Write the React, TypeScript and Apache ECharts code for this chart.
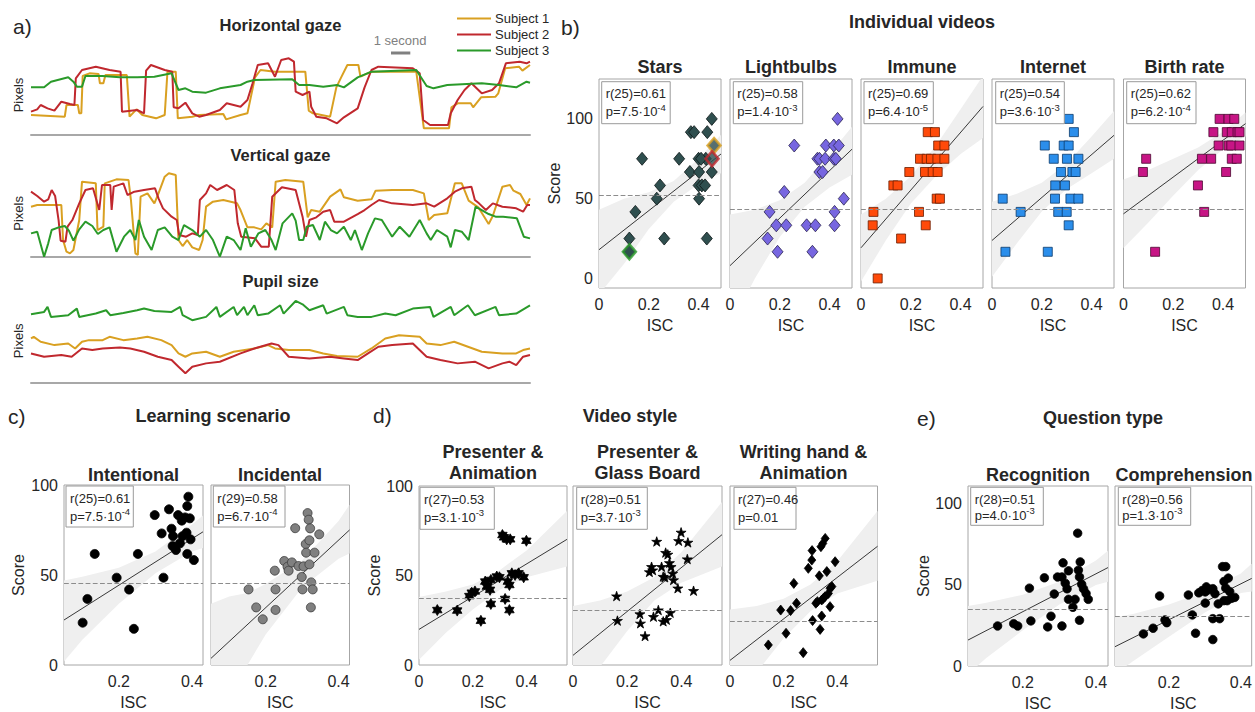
import { useEffect, useRef } from "react";
import * as echarts from "echarts";

const FONT = "'Liberation Sans', Arial, Helvetica, sans-serif";
const TXT = "#262626";

// ---------------- Panel a: eye-tracking traces ([sample, pixels]); 56 samples = 1 s
const SAMPLES_PER_SECOND = 56;
const TRACE_SAMPLES = 1448;
const subjectNames = ["Subject 1", "Subject 2", "Subject 3"];
const subjectColors = ["#D9A021", "#C0282E", "#2A9A2A"];

const horizS1 = [[0,60],[98,55],[103,90],[136,90],[140,65],[146,65],[150,177],[170,185],[196,183],[200,155],[210,155],[216,180],[278,180],[286,55],[306,77],[323,60],[363,50],[388,60],[396,190],[420,190],[426,50],[468,55],[488,60],[558,63],[566,47],[608,60],[628,65],[650,173],[666,195],[708,190],[796,190],[806,73],[818,65],[868,55],[886,143],[900,173],[918,210],[950,210],[956,175],[988,190],[1118,190],[1140,20],[1213,20],[1220,83],[1238,95],[1276,95],[1283,83],[1306,113],[1348,115],[1356,125],[1376,200],[1416,205],[1426,193],[1448,210]];
const horizS2 = [[0,70],[18,77],[28,90],[48,80],[68,73],[88,100],[113,93],[126,90],[130,170],[148,195],[188,205],[228,195],[260,190],[264,70],[308,75],[328,65],[334,193],[348,210],[388,195],[410,190],[414,83],[428,80],[448,97],[468,65],[488,55],[508,60],[548,75],[568,95],[608,85],[628,105],[643,155],[658,210],[688,215],[708,175],[726,225],[748,230],[763,220],[768,130],[788,120],[808,130],[813,85],[828,55],[858,50],[888,35],[908,53],[948,80],[968,143],[988,195],[1008,205],[1108,200],[1128,185],[1138,45],[1158,30],[1210,30],[1218,65],[1238,105],[1258,135],[1278,155],[1308,125],[1338,135],[1358,155],[1378,215],[1418,220],[1438,215],[1448,220]];
const horizS3 = [[0,143],[38,143],[58,160],[108,173],[123,160],[133,145],[148,145],[158,177],[208,177],[258,173],[308,173],[358,175],[408,185],[428,135],[448,140],[468,130],[508,127],[548,140],[608,150],[628,160],[648,165],[758,167],[778,150],[808,150],[848,145],[888,150],[908,143],[948,173],[988,190],[1118,195],[1148,147],[1168,140],[1208,150],[1308,155],[1358,150],[1408,143],[1438,160],[1448,157]];

const vertS1 = [[0,150],[18,155],[88,155],[93,50],[103,15],[113,10],[123,20],[140,110],[148,225],[188,220],[193,80],[210,90],[214,220],[248,232],[283,230],[290,170],[303,10],[310,5],[318,180],[338,190],[358,160],[370,190],[388,240],[400,250],[420,245],[428,50],[440,32],[453,50],[468,28],[488,20],[498,50],[508,150],[528,165],[558,170],[598,160],[608,140],[628,88],[648,88],[668,82],[683,100],[700,88],[710,225],[738,230],[790,225],[803,118],[813,140],[838,135],[868,180],[898,202],[908,178],[948,168],[988,172],[1000,198],[1048,200],[1108,200],[1140,190],[1154,110],[1170,125],[1208,130],[1230,220],[1250,220],[1270,168],[1298,148],[1328,98],[1340,122],[1368,210],[1390,215],[1400,198],[1420,188],[1438,155],[1448,175]];
const vertS2 = [[0,195],[18,182],[38,165],[50,172],[60,200],[70,182],[80,110],[86,48],[100,45],[106,90],[120,110],[140,160],[158,200],[180,205],[198,140],[206,215],[230,215],[234,140],[240,210],[268,220],[280,185],[300,195],[328,200],[360,205],[370,175],[383,145],[408,120],[423,110],[430,65],[450,60],[468,70],[484,65],[490,170],[508,190],[520,215],[540,200],[568,215],[590,200],[600,100],[610,60],[650,55],[668,30],[690,30],[700,180],[728,208],[768,200],[788,120],[798,60],[808,110],[828,118],[848,135],[868,140],[880,105],[908,105],[948,128],[968,140],[988,155],[1010,170],[1048,160],[1108,155],[1148,160],[1170,150],[1208,175],[1230,195],[1250,205],[1278,210],[1288,170],[1300,160],[1320,140],[1340,160],[1368,150],[1408,145],[1428,135],[1440,155],[1448,155]];
const vertS3 = [[0,70],[18,75],[38,0],[50,40],[60,80],[80,88],[98,92],[110,78],[123,48],[140,82],[158,105],[178,92],[194,68],[210,80],[228,88],[248,15],[270,60],[288,80],[303,50],[313,110],[328,60],[350,20],[368,80],[388,88],[410,60],[428,50],[444,95],[468,80],[490,60],[508,80],[528,50],[548,0],[568,60],[588,50],[608,20],[623,85],[638,30],[660,70],[680,80],[698,50],[710,20],[730,100],[758,130],[768,108],[778,50],[790,50],[800,90],[818,95],[838,50],[853,105],[870,80],[888,70],[908,90],[928,50],[940,80],[960,20],[978,70],[998,115],[1018,110],[1048,60],[1070,90],[1098,60],[1128,110],[1148,70],[1160,50],[1178,80],[1208,60],[1218,28],[1230,80],[1250,75],[1270,50],[1290,150],[1308,140],[1328,128],[1348,120],[1370,120],[1410,115],[1430,60],[1448,55]];

const pupilS1 = [[0,132],[8,137],[28,122],[68,112],[108,117],[128,102],[148,122],[168,127],[208,127],[228,137],[268,127],[308,132],[338,137],[378,127],[408,112],[428,87],[448,77],[468,87],[508,92],[548,77],[588,92],[648,102],[688,112],[708,102],[748,97],[808,97],[848,87],[888,79],[948,77],[988,102],[1028,132],[1068,142],[1128,137],[1148,117],[1188,112],[1228,122],[1268,107],[1308,92],[1368,87],[1408,87],[1428,97],[1448,102]];
const pupilS2 = [[0,87],[38,77],[88,82],[118,77],[148,102],[178,97],[208,102],[258,105],[288,102],[328,92],[368,77],[408,67],[428,47],[448,27],[468,47],[508,57],[548,62],[608,87],[648,102],[698,117],[718,112],[748,77],[808,72],[868,77],[908,72],[948,67],[978,87],[1008,107],[1048,112],[1108,117],[1148,77],[1188,67],[1238,57],[1288,62],[1328,42],[1368,57],[1388,62],[1408,52],[1428,77],[1448,82]];
const pupilS3 = [[0,205],[38,212],[48,227],[58,197],[108,202],[133,222],[140,197],[188,207],[218,217],[230,202],[268,209],[308,217],[328,222],[358,215],[408,212],[433,227],[440,202],[468,187],[508,197],[538,227],[548,197],[588,227],[598,202],[618,227],[628,202],[648,232],[658,202],[688,207],[723,232],[733,207],[768,245],[788,235],[808,217],[848,232],[858,207],[908,227],[918,202],[948,197],[988,197],[1028,207],[1058,202],[1108,222],[1158,227],[1168,197],[1218,227],[1228,202],[1268,232],[1288,202],[1348,227],[1358,202],[1408,207],[1448,232]];

// ---------------- Panel b: individual videos  ([ISC, score])
const starsPoints = [[0.453,100],[0.369,91.7],[0.382,91.7],[0.435,91.7],[0.173,75],[0.322,75],[0.4,75],[0.429,75],[0.41,75],[0.365,66.7],[0.402,66.7],[0.453,66.7],[0.245,58.3],[0.4,58.3],[0.413,58.3],[0.426,58.3],[0.232,50],[0.402,50],[0.146,41.7],[0.122,25],[0.262,25],[0.433,25],[0.119,16.7]];
const starsSubjects = [[0.462,83.3],[0.454,75],[0.122,16.7]]; // Subject 1, 2, 3
const lightbulbsPoints = [[0.432,100],[0.258,83.3],[0.385,83.3],[0.417,83.3],[0.437,83.3],[0.351,75],[0.359,75],[0.382,75],[0.417,75],[0.425,75],[0.359,66.7],[0.372,66.7],[0.218,54.2],[0.457,50],[0.159,41.7],[0.42,41.7],[0.186,33.3],[0.226,33.3],[0.308,33.3],[0.343,33.3],[0.42,33.3],[0.151,25],[0.191,16.7],[0.331,16.7]];
const immunePoints = [[0.268,91.7],[0.297,91.7],[0.31,83.3],[0.335,83.3],[0.237,75],[0.264,75],[0.281,75],[0.307,75],[0.335,75],[0.257,66.7],[0.288,66.7],[0.308,66.7],[0.194,66.7],[0.13,58.3],[0.147,58.3],[0.304,50],[0.317,50],[0.05,41.7],[0.233,41.7],[0.047,33.3],[0.26,33.3],[0.161,25],[0.067,0]];
const internetPoints = [[0.308,100],[0.329,91.7],[0.212,83.3],[0.288,83.3],[0.308,83.3],[0.248,75],[0.301,75],[0.347,75],[0.277,66.7],[0.323,66.7],[0.336,66.7],[0.254,58.3],[0.293,58.3],[0.043,50],[0.253,50],[0.315,50],[0.347,50],[0.115,41.7],[0.266,41.7],[0.3,41.7],[0.308,33.3],[0.054,16.7],[0.224,16.7]];
const birthPoints = [[0.386,100],[0.422,100],[0.445,100],[0.361,91.7],[0.415,91.7],[0.435,91.7],[0.458,91.7],[0.466,91.7],[0.382,83.3],[0.422,83.3],[0.433,83.3],[0.466,83.3],[0.091,75],[0.315,75],[0.352,75],[0.435,75],[0.455,75],[0.078,66.7],[0.412,66.7],[0.299,58.3],[0.324,41.7],[0.127,16.7]];

// regression fits [[x0,y0],[x1,y1]] and confidence bands [x, lower, upper]
const starsFit = [[0,18],[0.49,78]];
const lightbulbsFit = [[0,8],[0.49,81]];
const immuneFit = [[0,19.2],[0.49,107.8]];
const internetFit = [[0,23.8],[0.49,89.7]];
const birthFit = [[0,40.5],[0.49,97]];
const starsBand = [[0,-10,43],[0.1,9,50],[0.2,31,54],[0.3,48,61],[0.4,59,75],[0.49,66,90]];
const lightbulbsBand = [[0,-30,40],[0.1,0,43],[0.2,26,49],[0.3,45,60],[0.4,57,78],[0.49,65,95]];
const immuneBand = [[0,-2,40],[0.1,24,50],[0.2,47,64],[0.3,64,83],[0.4,78,106],[0.49,88,127]];
const internetBand = [[0,1,48],[0.1,22,53],[0.2,42,60],[0.3,56,72],[0.4,66,89],[0.49,75,105]];
const birthBand = [[0,19,62],[0.1,35,68],[0.2,52,75],[0.3,68,82],[0.4,81,92],[0.49,89,104]];
const videoChance = [52.2, 43.6, 43.6, 43.6, 43.6];

// ---------------- Panel c: learning scenario
const intentionalPoints = [[0.101,23.5],[0.114,36.7],[0.134,61.7],[0.194,48.5],[0.228,41.9],[0.241,20.1],[0.252,61.7],[0.298,83.3],[0.317,73.1],[0.322,48.5],[0.337,86.5],[0.344,75.7],[0.348,71.6],[0.347,66.1],[0.356,63.9],[0.362,83.3],[0.367,67.6],[0.372,80.2],[0.374,71.6],[0.381,82],[0.385,73.5],[0.387,88.3],[0.39,93.5],[0.394,81.5],[0.396,69.8],[0.387,61.7],[0.405,58.3]];
const incidentalPoints = [[0.153,42],[0.174,32],[0.192,25.4],[0.225,52.4],[0.227,42],[0.227,30.6],[0.251,57.8],[0.26,54.6],[0.263,52.4],[0.272,57],[0.281,76],[0.29,55],[0.299,48.9],[0.301,42],[0.304,54.8],[0.31,67.2],[0.311,62.4],[0.315,84.4],[0.318,80.7],[0.322,75.9],[0.32,69.3],[0.32,55.9],[0.324,32],[0.325,45.9],[0.329,42],[0.334,62.4],[0.347,72.6]];
const intentionalFit = [[0.05,25],[0.43,74]];
const incidentalFit = [[0.05,3.7],[0.43,75]];
const intentionalBand = [[0.05,2,47],[0.1,14,49],[0.2,34,54],[0.3,51,63],[0.4,63,78],[0.43,65,83]];
const incidentalBand = [[0.05,-30,34],[0.1,-12,38],[0.15,0,40],[0.2,17,45],[0.3,43,58],[0.4,59,80],[0.43,62,89]];
const scenarioChance = [45.4, 45.4];

// ---------------- Panel d: video style
const presAnimPoints = [[0.068,30.7],[0.142,30.4],[0.187,38.5],[0.196,40.4],[0.208,41.1],[0.23,24.7],[0.246,46.6],[0.252,43.8],[0.264,42],[0.267,47.5],[0.267,34.1],[0.289,49.4],[0.299,49],[0.31,72.6],[0.316,71.3],[0.326,70.2],[0.339,70.2],[0.32,36.9],[0.33,46.6],[0.336,44.7],[0.336,30.7],[0.345,51.2],[0.357,50.3],[0.37,51.2],[0.389,49],[0.399,69.4]];
const presGlassPoints = [[0.161,38.5],[0.164,24.8],[0.247,28.5],[0.249,23.3],[0.266,16.2],[0.282,52],[0.29,54.9],[0.294,53],[0.297,27],[0.309,69],[0.315,30.7],[0.327,54.9],[0.333,49.4],[0.339,49],[0.333,24.4],[0.345,25.3],[0.342,62.8],[0.35,61.8],[0.356,57.1],[0.362,54.9],[0.368,51.2],[0.371,47.5],[0.359,29.2],[0.387,42.9],[0.39,69.4],[0.399,74.1],[0.424,68.5],[0.422,59.2],[0.445,41.5]];
const handAnimPoints = [[0.143,11.2],[0.189,30.7],[0.209,17.7],[0.226,30.4],[0.238,45.6],[0.248,34.5],[0.273,6.9],[0.292,54],[0.305,58.6],[0.306,63.9],[0.308,24.8],[0.32,34.5],[0.326,35.4],[0.333,49.8],[0.336,19.9],[0.342,27.4],[0.339,66.1],[0.346,67.9],[0.342,36.3],[0.348,37.2],[0.354,38.1],[0.361,52.2],[0.367,40],[0.373,42.9],[0.38,43.8],[0.355,70.7],[0.373,32.6],[0.392,57.7]];
const presAnimFit = [[0,19.9],[0.55,70.2]];
const presGlassFit = [[0,5.4],[0.55,72.8]];
const handAnimFit = [[0,2.6],[0.55,66.3]];
const presAnimBand = [[0,3,38],[0.1,18,41],[0.2,31,45],[0.3,42,53],[0.4,49,64],[0.55,55,86]];
const presGlassBand = [[0,-25,33],[0.1,-1,36],[0.2,19,41],[0.3,36,49],[0.4,46,63],[0.55,55,91]];
const handAnimBand = [[0,-25,31],[0.1,-4,33],[0.2,15,37],[0.3,30,45],[0.4,40,58],[0.55,47,86]];
const styleChance = [37.3, 30.7, 24.7];

// ---------------- Panel e: question type
const recognitionPoints = [[0.131,24.7],[0.175,26.1],[0.186,24.7],[0.218,48],[0.222,27.8],[0.259,54.4],[0.268,24.1],[0.277,30.7],[0.286,44.4],[0.295,54.9],[0.307,54.9],[0.307,24.7],[0.31,63.6],[0.316,51.1],[0.321,47.6],[0.325,58.7],[0.325,41.1],[0.337,36.2],[0.343,41.1],[0.35,81.9],[0.352,59.1],[0.355,54.9],[0.357,64.2],[0.355,28.2],[0.361,50.4],[0.366,47.6],[0.373,44.7],[0.379,41.1]];
const comprehensionPoints = [[0.129,19.8],[0.156,23.3],[0.174,43.2],[0.189,28.4],[0.194,26.7],[0.254,43.8],[0.265,31.5],[0.274,20.2],[0.283,45.1],[0.292,46.5],[0.301,45.7],[0.304,48.8],[0.313,47.1],[0.301,38.8],[0.322,47.7],[0.328,44.6],[0.322,29.2],[0.322,16.3],[0.337,38.3],[0.341,29.2],[0.349,61.3],[0.358,61.3],[0.353,52.1],[0.358,48],[0.365,54.2],[0.353,40.3],[0.369,45.9],[0.362,40.3],[0.374,41.7],[0.383,42.3]];
const recognitionFit = [[0.05,16],[0.433,60.7]];
const comprehensionFit = [[0.05,11.9],[0.43,54]];
const recognitionBand = [[0.05,-5,37],[0.1,5,39],[0.2,22,44],[0.3,38,52],[0.4,50,65],[0.433,52,71]];
const comprehensionBand = [[0.05,-5,30],[0.1,3,32],[0.2,18,38],[0.3,33,46],[0.4,45,57],[0.43,46,63]];
const questionChance = [35, 30.9];

const isc0Ticks = [0, 0.2, 0.4];
const iscTicks = [0.2, 0.4];
const scoreTicks = [0, 50, 100];

const HEXAGRAM = "path://M50,0 L64.4,25 L93.3,25 L78.9,50 L93.3,75 L64.4,75 L50,100 L35.6,75 L6.7,75 L21.1,50 L6.7,25 L35.6,25 Z";
const PENTAGRAM = "path://M50,0 L61.2,34.5 L97.6,34.5 L68.2,55.9 L79.4,90.5 L50,69.1 L20.6,90.5 L31.8,55.9 L2.4,34.5 L38.8,34.5 Z";

type Panel = {
  grid: number[]; x: number[]; y: number[]; xTicks: number[]; showY: boolean; nameGap: number;
  points: number[][]; fit: number[][]; band: number[][]; chance: number;
  symbol: string; size: number | number[]; color: string; border: string;
  box: number[]; r: string; p: string; exp: string; title: string[]; titleX: number;
};

const bTop = 79, bH = 209, bW = 122;
const cTop = 485, cH = 180;
const panels: Panel[] = [
  { grid: [599, bTop, bW, bH], x: [0, 0.49], y: [-6, 125], xTicks: isc0Ticks, showY: true, nameGap: 36, points: starsPoints, fit: starsFit, band: starsBand, chance: videoChance[0], symbol: "diamond", size: [11, 13], color: "#2F4F4F", border: "#0c1616", box: [601.7, 81.7, 68.5, 42], r: "r(25)=0.61", p: "p=7.5·10", exp: "-4", title: ["Stars"], titleX: 660 },
  { grid: [730, bTop, bW, bH], x: [0, 0.49], y: [-6, 125], xTicks: isc0Ticks, showY: false, nameGap: 36, points: lightbulbsPoints, fit: lightbulbsFit, band: lightbulbsBand, chance: videoChance[1], symbol: "diamond", size: [11, 13], color: "#7766E0", border: "#2a2450", box: [733.3, 81.7, 69.4, 42], r: "r(25)=0.58", p: "p=1.4·10", exp: "-3", title: ["Lightbulbs"], titleX: 791 },
  { grid: [861, bTop, bW, bH], x: [0, 0.49], y: [-6, 125], xTicks: isc0Ticks, showY: false, nameGap: 36, points: immunePoints, fit: immuneFit, band: immuneBand, chance: videoChance[2], symbol: "rect", size: 9, color: "#FF4A0A", border: "#6b1d00", box: [864, 81.7, 69.3, 42], r: "r(25)=0.69", p: "p=6.4·10", exp: "-5", title: ["Immune"], titleX: 922 },
  { grid: [992, bTop, bW, bH], x: [0, 0.49], y: [-6, 125], xTicks: isc0Ticks, showY: false, nameGap: 36, points: internetPoints, fit: internetFit, band: internetBand, chance: videoChance[3], symbol: "rect", size: 9, color: "#2B8EEB", border: "#0b3a6b", box: [995.7, 81.7, 68.6, 42], r: "r(25)=0.54", p: "p=3.6·10", exp: "-3", title: ["Internet"], titleX: 1053 },
  { grid: [1123.5, bTop, bW, bH], x: [0, 0.49], y: [-6, 125], xTicks: isc0Ticks, showY: false, nameGap: 36, points: birthPoints, fit: birthFit, band: birthBand, chance: videoChance[4], symbol: "rect", size: 9, color: "#C71585", border: "#4a0730", box: [1126.7, 81.7, 69.3, 42], r: "r(25)=0.62", p: "p=6.2·10", exp: "-4", title: ["Birth rate"], titleX: 1184.5 },
  { grid: [64, cTop, 139, cH], x: [0.05, 0.43], y: [0, 100], xTicks: iscTicks, showY: true, nameGap: 38, points: intentionalPoints, fit: intentionalFit, band: intentionalBand, chance: scenarioChance[0], symbol: "circle", size: 9, color: "#000", border: "#000", box: [66, 486, 67.3, 41], r: "r(25)=0.61", p: "p=7.5·10", exp: "-4", title: ["Intentional"], titleX: 133.5 },
  { grid: [211, cTop, 138.5, cH], x: [0.05, 0.43], y: [0, 100], xTicks: iscTicks, showY: false, nameGap: 38, points: incidentalPoints, fit: incidentalFit, band: incidentalBand, chance: scenarioChance[1], symbol: "circle", size: 9, color: "#808080", border: "#3a3a3a", box: [213.3, 486, 71.7, 41], r: "r(29)=0.58", p: "p=6.7·10", exp: "-4", title: ["Incidental"], titleX: 280 },
  { grid: [419, 486, 148, 179], x: [0, 0.55], y: [0, 100], xTicks: isc0Ticks, showY: true, nameGap: 35, points: presAnimPoints, fit: presAnimFit, band: presAnimBand, chance: styleChance[0], symbol: HEXAGRAM, size: 11, color: "#000", border: "#000", box: [420, 487.3, 74.3, 42], r: "r(27)=0.53", p: "p=3.1·10", exp: "-3", title: ["Presenter &", "Animation"], titleX: 493 },
  { grid: [573, 486, 149, 179], x: [0, 0.55], y: [0, 100], xTicks: isc0Ticks, showY: false, nameGap: 35, points: presGlassPoints, fit: presGlassFit, band: presGlassBand, chance: styleChance[1], symbol: PENTAGRAM, size: 10, color: "#000", border: "#000", box: [576.7, 487.3, 70.6, 42], r: "r(28)=0.51", p: "p=3.7·10", exp: "-3", title: ["Presenter &", "Glass Board"], titleX: 647.5 },
  { grid: [730, 486, 147.5, 179], x: [0, 0.55], y: [0, 100], xTicks: isc0Ticks, showY: false, nameGap: 35, points: handAnimPoints, fit: handAnimFit, band: handAnimBand, chance: styleChance[2], symbol: "diamond", size: [8, 10], color: "#000", border: "#000", box: [734, 487.3, 62, 42], r: "r(27)=0.46", p: "p=0.01", exp: "", title: ["Writing hand &", "Animation"], titleX: 803.5 },
  { grid: [968, 486, 140, 180], x: [0.05, 0.433], y: [0, 111], xTicks: iscTicks, showY: true, nameGap: 36, points: recognitionPoints, fit: recognitionFit, band: recognitionBand, chance: questionChance[0], symbol: "circle", size: 8.5, color: "#000", border: "#000", box: [970.7, 487.3, 72.6, 38], r: "r(28)=0.51", p: "p=4.0·10", exp: "-3", title: ["Recognition"], titleX: 1038 },
  { grid: [1115, 486, 138.5, 180], x: [0.05, 0.43], y: [0, 111], xTicks: iscTicks, showY: false, nameGap: 36, points: comprehensionPoints, fit: comprehensionFit, band: comprehensionBand, chance: questionChance[1], symbol: "circle", size: 8.5, color: "#000", border: "#000", box: [1118.3, 487.3, 72.4, 38], r: "r(28)=0.56", p: "p=1.3·10", exp: "-3", title: ["Comprehension"], titleX: 1184 },
];

function text(t: string, x: number, y: number, size: number, bold: boolean, align = "center", color = TXT) {
  return {
    type: "text", x, y, z: 100, silent: true,
    style: { text: t, fontSize: size, fontWeight: bold ? "bold" : "normal", fontFamily: FONT, fill: color, align, verticalAlign: "middle" },
  };
}

const TRACE_LEFT = 31;
const TRACE_WIDTH = 499;

function buildOption() {
  const grid: any[] = [];
  const xAxis: any[] = [];
  const yAxis: any[] = [];
  const series: any[] = [];
  const graphic: any[] = [];

  // ---- panel a
  const traceGrids = [
    { top: 55, height: 80, max: 240, data: [horizS1, horizS2, horizS3] },
    { top: 170, height: 86.7, max: 260, data: [vertS1, vertS2, vertS3] },
    { top: 299.3, height: 83, max: 250, data: [pupilS1, pupilS2, pupilS3] },
  ];
  traceGrids.forEach((tg, gi) => {
    grid.push({ left: TRACE_LEFT, top: tg.top, width: TRACE_WIDTH, height: tg.height });
    xAxis.push({
      gridIndex: gi, type: "value", min: 0, max: TRACE_SAMPLES,
      axisLine: { show: true, onZero: false, lineStyle: { color: "#a8a8a8", width: 2 } },
      axisTick: { show: false }, axisLabel: { show: false }, splitLine: { show: false },
    });
    yAxis.push({
      gridIndex: gi, type: "value", min: 0, max: tg.max,
      axisLine: { show: false }, axisTick: { show: false }, axisLabel: { show: false }, splitLine: { show: false },
      name: "Pixels", nameLocation: "middle", nameGap: 6,
      nameTextStyle: { fontSize: 13, fontFamily: FONT, color: TXT },
    });
    tg.data.forEach((d, si) => {
      series.push({
        type: "line", name: subjectNames[si], xAxisIndex: gi, yAxisIndex: gi, data: d,
        symbol: "none", lineStyle: { color: subjectColors[si], width: 2 }, itemStyle: { color: subjectColors[si] },
        silent: true, z: 2,
      });
    });
  });

  // ---- scatter panels
  panels.forEach((sp, k) => {
    const gi = 3 + k;
    const [left, top, width, height] = sp.grid;
    grid.push({ left, top, width, height, show: true, borderColor: "#a6a6a6", borderWidth: 1, backgroundColor: "#fff" });
    xAxis.push({
      gridIndex: gi, type: "value", min: sp.x[0], max: sp.x[1],
      axisLine: { show: false }, axisTick: { show: false }, splitLine: { show: false },
      axisLabel: { customValues: sp.xTicks, fontSize: 16, fontFamily: FONT, color: TXT, margin: 8 },
      name: "ISC", nameLocation: "middle", nameGap: 29,
      nameTextStyle: { fontSize: 16, fontFamily: FONT, color: TXT },
    });
    yAxis.push({
      gridIndex: gi, type: "value", min: sp.y[0], max: sp.y[1],
      axisLine: { show: false }, axisTick: { show: false }, splitLine: { show: false },
      axisLabel: { show: sp.showY, customValues: scoreTicks, fontSize: 16, fontFamily: FONT, color: TXT, margin: 6 },
      name: sp.showY ? "Score" : "", nameLocation: "middle", nameGap: sp.nameGap,
      nameTextStyle: { fontSize: 16, fontFamily: FONT, color: TXT },
    });
    const band = sp.band;
    series.push({
      type: "custom", xAxisIndex: gi, yAxisIndex: gi, data: band, clip: true, silent: true, z: 1,
      encode: { x: 0, y: [1, 2] },
      renderItem: (params: any, api: any) => {
        if (params.dataIndex !== 0) return { type: "group", children: [] };
        const upper = band.map((b) => api.coord([b[0], b[2]]));
        const lower = band.map((b) => api.coord([b[0], b[1]])).reverse();
        return { type: "polygon", shape: { points: upper.concat(lower) }, style: { fill: "#efefef" } };
      },
    });
    series.push({
      type: "line", xAxisIndex: gi, yAxisIndex: gi, data: sp.fit, symbol: "none", silent: true, z: 2,
      lineStyle: { color: "#222", width: 0.9 },
    });
    series.push({
      type: "scatter", xAxisIndex: gi, yAxisIndex: gi, data: sp.points, silent: true, z: 3,
      symbol: sp.symbol, symbolSize: sp.size, symbolKeepAspect: true,
      itemStyle: { color: sp.color, borderColor: sp.border, borderWidth: 0.8, opacity: 1 },
      markLine: {
        silent: true, symbol: "none", label: { show: false },
        lineStyle: { color: "#8c8c8c", type: "dashed", width: 1.2 },
        data: [{ yAxis: sp.chance }],
      },
    });
    if (k === 0) {
      starsSubjects.forEach((pt, si) => {
        series.push({
          type: "scatter", xAxisIndex: gi, yAxisIndex: gi, data: [pt], silent: true, z: 4,
          symbol: "diamond", symbolSize: [13, 15],
          itemStyle: { color: "#2F4F4F", borderColor: subjectColors[si], borderWidth: 2.5 },
        });
      });
    }
    // titles
    if (sp.title.length === 1) {
      graphic.push(text(sp.title[0], sp.titleX, k < 5 ? 67 : 475, 18, true));
    } else {
      graphic.push(text(sp.title[0], sp.titleX, 451.7, 18, true));
      graphic.push(text(sp.title[1], sp.titleX, 473.3, 18, true));
    }
    // stats box
    const [bx, by, bw, bh] = sp.box;
    graphic.push({
      type: "rect", z: 100, silent: true, shape: { x: bx, y: by, width: bw, height: bh },
      style: { fill: "#fff", stroke: "#9a9a9a", lineWidth: 1 },
    });
    graphic.push(text(sp.r, bx + 4, by + 12, 13, false, "left"));
    graphic.push({
      type: "text", x: bx + 4, y: by + (bh > 40 ? 30 : 28), z: 100, silent: true,
      style: {
        text: sp.exp ? `{a|${sp.p}}{s|${sp.exp}}` : sp.p,
        fontSize: 13, fontFamily: FONT, fill: TXT, align: "left", verticalAlign: "middle",
        rich: {
          a: { fontSize: 13, fontFamily: FONT, fill: TXT },
          s: { fontSize: 9.5, fontFamily: FONT, fill: TXT, padding: [0, 0, 9, 0] },
        },
      },
    });
  });

  // ---- section labels and headers
  const traceMid = TRACE_LEFT + TRACE_WIDTH / 2;
  const barLen = TRACE_WIDTH * SAMPLES_PER_SECOND / TRACE_SAMPLES;
  graphic.push(text("a)", 13, 26, 21, false, "left"));
  graphic.push(text("Horizontal gaze", traceMid, 25, 16.5, true));
  graphic.push(text("Vertical gaze", traceMid, 155, 16.5, true));
  graphic.push(text("Pupil size", traceMid, 281, 16.5, true));
  graphic.push(text("1 second", 400, 40, 13, false, "center", "#808080"));
  graphic.push({
    type: "line", z: 100, silent: true, shape: { x1: 391, y1: 53, x2: 391 + barLen, y2: 53 },
    style: { stroke: "#808080", lineWidth: 3 },
  });
  graphic.push(text("b)", 561, 27, 21, false, "left"));
  graphic.push(text("Individual videos", 922, 22, 18, true));
  graphic.push(text("c)", 8, 416, 21, false, "left"));
  graphic.push(text("Learning scenario", 213, 416, 18, true));
  graphic.push(text("d)", 373, 415, 21, false, "left"));
  graphic.push(text("Video style", 630, 416, 18, true));
  graphic.push(text("e)", 917, 418, 21, false, "left"));
  graphic.push(text("Question type", 1103, 418, 18, true));

  return {
    animation: false,
    backgroundColor: "#fff",
    textStyle: { fontFamily: FONT },
    legend: {
      data: subjectNames, orient: "vertical", left: 452, top: 7, icon: "rect",
      itemWidth: 34, itemHeight: 2, itemGap: 3, itemStyle: { borderWidth: 0 },
      selectedMode: false, textStyle: { fontSize: 13, fontFamily: FONT, color: TXT, padding: [0, 0, 0, -1] },
    },
    grid, xAxis, yAxis, series, graphic,
  };
}

export default function App() {
  const ref = useRef<HTMLDivElement>(null);
  useEffect(() => {
    if (!ref.current) return;
    const chart = echarts.init(ref.current, null, { renderer: "svg" });
    chart.setOption(buildOption() as any);
    return () => chart.dispose();
  }, []);
  return <div ref={ref} style={{ position: "fixed", left: 0, top: 0, width: 1255, height: 712, background: "#fff" }} />;
}
